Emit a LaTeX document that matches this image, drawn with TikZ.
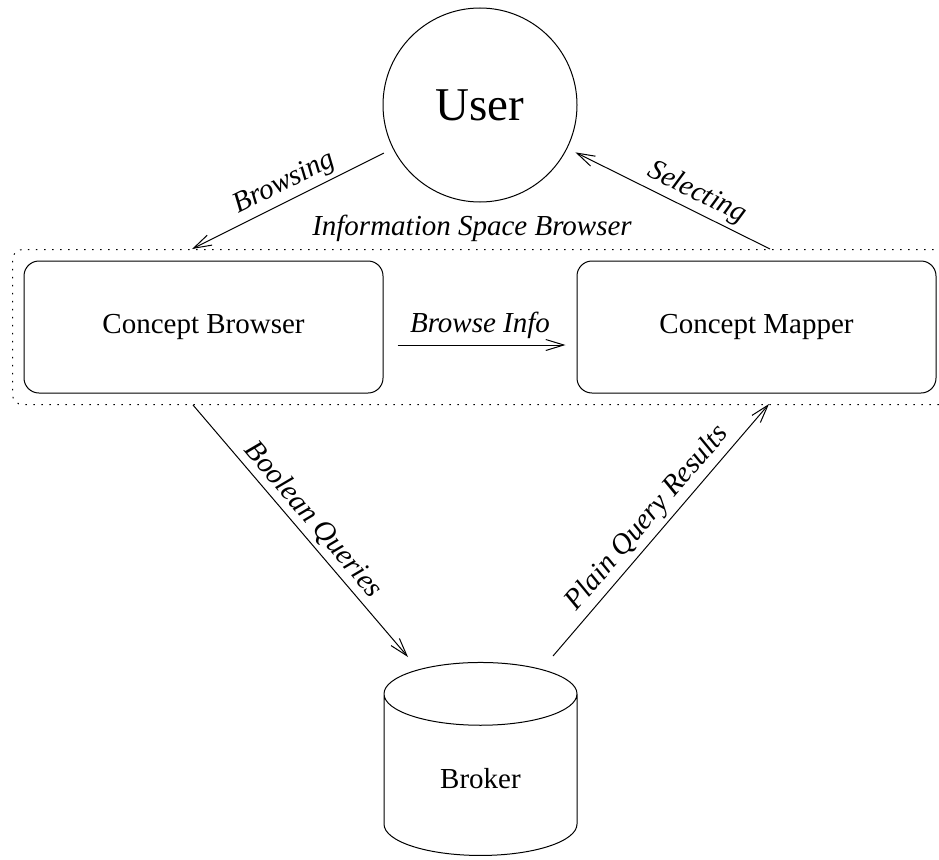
\documentclass[tikz,border=0pt]{standalone}
\usepackage{fontspec}
\setmainfont{Liberation Serif}
\usetikzlibrary{shapes.geometric, arrows.meta, fit, positioning}

\begin{document}
\begin{tikzpicture}[x=1pt, y=-1pt, line width=1pt, main/.style={draw, circle, minimum size=194pt, inner sep=0pt, font=\fontsize{47}{56}\selectfont}, info/.style={rectangle, rounded corners=15pt, draw, minimum width=359pt, minimum height=132pt, font=\fontsize{29}{35}\selectfont}, store/.style={draw, cylinder, shape border rotate=90, aspect=0.72, minimum width=193pt, minimum height=193pt, font=\fontsize{29}{35}\selectfont}, grp/.style={draw, rounded corners=10pt, dash pattern=on 1.5pt off 6.5pt, inner sep=11pt}, lbl/.style={font=\fontsize{29}{35}\selectfont\itshape, inner sep=4pt}, n/.style={-{Straight Barb[length=18pt, width=11pt]}}]
                \useasboundingbox (0,0) rectangle (939,859);
                % nodes
                \node[main] (user) at (480,105) {User};
                \node[info] (cb) at (203.5,327) {Concept Browser};
                \node[info] (cm) at (756.5,327) {Concept Mapper};
                \coordinate (isbr) at ([xshift=12pt]cm.east);
                \node[grp, fit=(cb)(cm)(isbr)] (isb) {};
                \node[lbl, anchor=base] (isbl) at (472,235) {Information Space Browser};
                \node[store] (broker) at (480.5,779) {Broker};
                \coordinate (bri) at (192,249);
                \coordinate (sel) at (770,249);
                \coordinate (bqs) at (193,405);
                \coordinate (bqe) at (408,657);
                \coordinate (pqs) at (553,656);
                \coordinate (pqe) at (769,404);
                % edges
                \draw [n, shorten <=10pt] (user) -- node[lbl, sloped, above] {Browsing} (bri);
                \draw [n, shorten >=9pt] (sel) -- node[lbl, sloped, above, pos=0.4] {Selecting} (user);
                \draw [n, shorten <=14pt, shorten >=11pt] ([yshift=-18pt]cb.east) -- node[lbl, above, inner sep=6pt] {Browse Info} ([yshift=-18pt]cm.west);
                \draw [n] (bqs) -- node[lbl, sloped, above] {Boolean Queries} (bqe);
                \draw [n] (pqs) -- node[lbl, sloped, above] {Plain Query Results} (pqe);
            \end{tikzpicture}
\end{document}
